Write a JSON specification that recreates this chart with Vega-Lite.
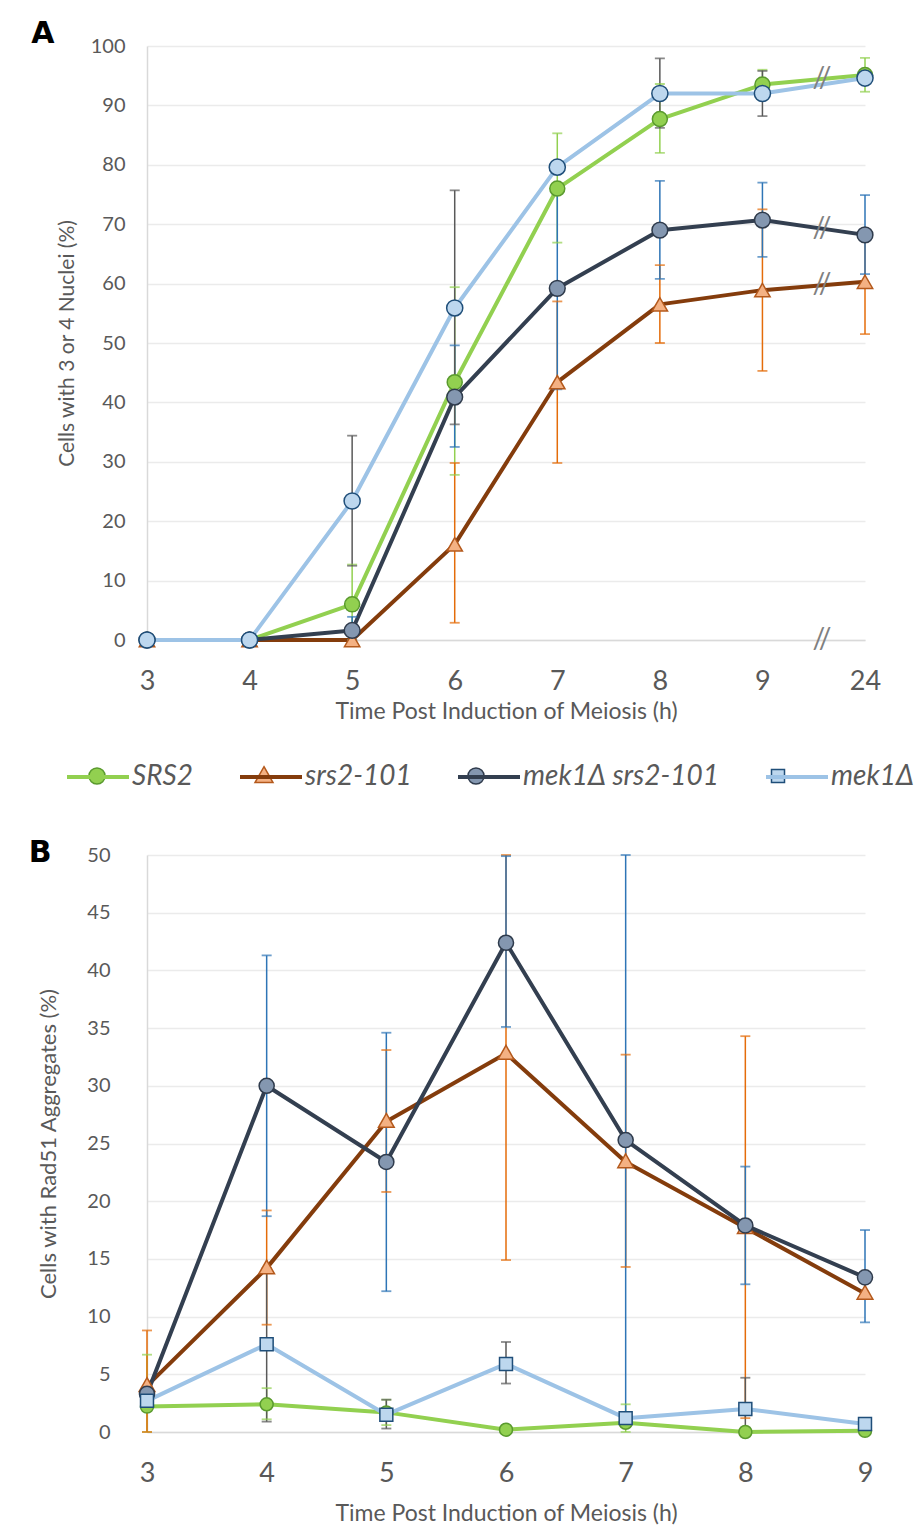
{
  "$schema": "https://vega.github.io/schema/vega-lite/v6.json",
  "background": "white",
  "padding": {"left": 28, "top": 19, "right": 0, "bottom": 0},
  "spacing": 21,
  "resolve": {"scale": {"color": "independent", "fill": "independent", "stroke": "independent", "shape": "independent", "size": "independent"}, "legend": {"color": "independent", "fill": "independent", "stroke": "independent", "shape": "independent", "size": "independent"}},
  "config": {
    "font": "Lato",
    "view": {"stroke": null},
    "axis": {"labelColor": "#595959", "titleColor": "#595959", "labelFont": "Lato", "titleFont": "Lato", "titleFontWeight": "normal", "ticks": false, "gridColor": "#EBEBEB", "gridWidth": 1.5, "domainColor": "#D9D9D9", "domainWidth": 1.5}
  },
  "datasets": {
    "A": [
      {"t": 3, "s": "SRS2", "v": 0}, {"t": 4, "s": "SRS2", "v": 0},
      {"t": 5, "s": "SRS2", "v": 6.0, "lo": 0, "hi": 12.7},
      {"t": 6, "s": "SRS2", "v": 43.4, "lo": 27.8, "hi": 59.4},
      {"t": 7, "s": "SRS2", "v": 76.0, "lo": 66.9, "hi": 85.3},
      {"t": 8, "s": "SRS2", "v": 87.7, "lo": 82.0, "hi": 93.6},
      {"t": 9, "s": "SRS2", "v": 93.5, "lo": 91.0, "hi": 96.0},
      {"t": 24, "s": "SRS2", "v": 95.1, "lo": 92.3, "hi": 98.0},
      {"t": 3, "s": "srs2-101", "v": 0}, {"t": 4, "s": "srs2-101", "v": 0}, {"t": 5, "s": "srs2-101", "v": 0},
      {"t": 6, "s": "srs2-101", "v": 16.1, "lo": 2.9, "hi": 29.8},
      {"t": 7, "s": "srs2-101", "v": 43.4, "lo": 29.8, "hi": 57.0},
      {"t": 8, "s": "srs2-101", "v": 56.5, "lo": 50.0, "hi": 63.1},
      {"t": 9, "s": "srs2-101", "v": 58.9, "lo": 45.3, "hi": 72.5},
      {"t": 24, "s": "srs2-101", "v": 60.3, "lo": 51.5, "hi": 69.1},
      {"t": 3, "s": "mek1Δ srs2-101", "v": 0}, {"t": 4, "s": "mek1Δ srs2-101", "v": 0},
      {"t": 5, "s": "mek1Δ srs2-101", "v": 1.6, "lo": 0, "hi": 3.9},
      {"t": 6, "s": "mek1Δ srs2-101", "v": 40.9, "lo": 32.5, "hi": 49.6},
      {"t": 7, "s": "mek1Δ srs2-101", "v": 59.2, "lo": 42.2, "hi": 76.2},
      {"t": 8, "s": "mek1Δ srs2-101", "v": 69.0, "lo": 60.8, "hi": 77.3},
      {"t": 9, "s": "mek1Δ srs2-101", "v": 70.7, "lo": 64.5, "hi": 77.0},
      {"t": 24, "s": "mek1Δ srs2-101", "v": 68.2, "lo": 61.6, "hi": 74.9},
      {"t": 3, "s": "mek1Δ", "v": 0}, {"t": 4, "s": "mek1Δ", "v": 0},
      {"t": 5, "s": "mek1Δ", "v": 23.4, "lo": 12.5, "hi": 34.4},
      {"t": 6, "s": "mek1Δ", "v": 55.9, "lo": 36.3, "hi": 75.7},
      {"t": 7, "s": "mek1Δ", "v": 79.6},
      {"t": 8, "s": "mek1Δ", "v": 92.0, "lo": 86.2, "hi": 97.9},
      {"t": 9, "s": "mek1Δ", "v": 92.0, "lo": 88.2, "hi": 95.8},
      {"t": 24, "s": "mek1Δ", "v": 94.6}
    ],
    "B": [
      {"t": 3, "s": "SRS2", "v": 2.2, "lo": 0, "hi": 6.7},
      {"t": 4, "s": "SRS2", "v": 2.4, "lo": 1.1, "hi": 3.8},
      {"t": 5, "s": "SRS2", "v": 1.7, "lo": 0.6, "hi": 2.8},
      {"t": 6, "s": "SRS2", "v": 0.2},
      {"t": 7, "s": "SRS2", "v": 0.8, "lo": 0, "hi": 2.4},
      {"t": 8, "s": "SRS2", "v": 0},
      {"t": 9, "s": "SRS2", "v": 0.1},
      {"t": 3, "s": "srs2-101", "v": 4.0, "lo": 0, "hi": 8.8},
      {"t": 4, "s": "srs2-101", "v": 14.2, "lo": 9.3, "hi": 19.2},
      {"t": 5, "s": "srs2-101", "v": 26.9, "lo": 20.8, "hi": 33.1},
      {"t": 6, "s": "srs2-101", "v": 32.8, "lo": 14.9, "hi": 50},
      {"t": 7, "s": "srs2-101", "v": 23.4, "lo": 14.3, "hi": 32.7},
      {"t": 8, "s": "srs2-101", "v": 17.7, "lo": 1.2, "hi": 34.3},
      {"t": 9, "s": "srs2-101", "v": 12.0},
      {"t": 3, "s": "mek1Δ srs2-101", "v": 3.3},
      {"t": 4, "s": "mek1Δ srs2-101", "v": 30.0, "lo": 18.7, "hi": 41.3},
      {"t": 5, "s": "mek1Δ srs2-101", "v": 23.4, "lo": 12.2, "hi": 34.6},
      {"t": 6, "s": "mek1Δ srs2-101", "v": 42.4, "lo": 35.1, "hi": 49.9},
      {"t": 7, "s": "mek1Δ srs2-101", "v": 25.3, "lo": 1.2, "hi": 50},
      {"t": 8, "s": "mek1Δ srs2-101", "v": 17.9, "lo": 12.8, "hi": 23.0},
      {"t": 9, "s": "mek1Δ srs2-101", "v": 13.4, "lo": 9.5, "hi": 17.5},
      {"t": 3, "s": "mek1Δ", "v": 2.7},
      {"t": 4, "s": "mek1Δ", "v": 7.6, "lo": 0.9, "hi": 14.2},
      {"t": 5, "s": "mek1Δ", "v": 1.5, "lo": 0.3, "hi": 2.8},
      {"t": 6, "s": "mek1Δ", "v": 5.9, "lo": 4.2, "hi": 7.8},
      {"t": 7, "s": "mek1Δ", "v": 1.2},
      {"t": 8, "s": "mek1Δ", "v": 2.0, "lo": 0, "hi": 4.7},
      {"t": 9, "s": "mek1Δ", "v": 0.7}
    ],
    "brk": [
      {"t": 24, "v": 94.4}, {"t": 24, "v": 69.2}, {"t": 24, "v": 59.7}, {"t": 24, "v": 0}
    ]
  },
  "vconcat": [
    {
      "width": 718,
      "height": 594,
      "title": {"text": "A", "anchor": "start", "font": "DejaVu Sans", "fontWeight": "bold", "fontSize": 30, "color": "#000000", "dx": -25, "offset": -13},
      "data": {"name": "A"},
      "resolve": {"scale": {"color": "independent"}},
      "layer": [
        {
          "mark": {"type": "line", "strokeWidth": 4, "strokeJoin": "round"},
          "encoding": {
            "x": {"field": "t", "type": "ordinal", "title": "Time Post Induction of Meiosis (h)",
                  "scale": {"type": "point", "padding": 0, "domain": [3, 4, 5, 6, 7, 8, 9, 24]},
                  "axis": {"labelAngle": 0, "labelFontSize": 27, "labelPadding": 28, "titleFontSize": 23, "titlePadding": 6, "grid": false, "domain": true}},
            "y": {"field": "v", "type": "quantitative", "title": "Cells with 3 or 4 Nuclei (%)",
                  "scale": {"domain": [0, 100], "nice": false},
                  "axis": {"values": [0, 10, 20, 30, 40, 50, 60, 70, 80, 90, 100], "labelFontSize": 20, "labelPadding": 22, "titleFontSize": 21, "titlePadding": 13, "grid": true, "domain": true}},
            "color": {"field": "s", "type": "nominal", "legend": null,
                      "scale": {"domain": ["SRS2", "srs2-101", "mek1Δ srs2-101", "mek1Δ"], "range": ["#92D050", "#843C0C", "#333F50", "#9DC3E6"]}}
          }
        },
        {
          "mark": {"type": "rule", "strokeWidth": 1.5},
          "encoding": {
            "x": {"field": "t", "type": "ordinal", "title": "Time Post Induction of Meiosis (h)"},
            "y": {"field": "lo", "type": "quantitative", "title": "Cells with 3 or 4 Nuclei (%)"},
            "y2": {"field": "hi"},
            "color": {"field": "s", "type": "nominal", "legend": null,
                      "scale": {"domain": ["SRS2", "srs2-101", "mek1Δ srs2-101", "mek1Δ"], "range": ["#92D050", "#E46C0A", "#2E75B6", "#595959"]}}
          }
        },
        {
          "mark": {"type": "tick", "orient": "horizontal", "size": 10, "thickness": 1.8},
          "encoding": {
            "x": {"field": "t", "type": "ordinal", "title": "Time Post Induction of Meiosis (h)"},
            "y": {"field": "hi", "type": "quantitative", "title": "Cells with 3 or 4 Nuclei (%)"},
            "color": {"field": "s", "type": "nominal", "legend": null,
                      "scale": {"domain": ["SRS2", "srs2-101", "mek1Δ srs2-101", "mek1Δ"], "range": ["#92D050", "#E46C0A", "#2E75B6", "#595959"]}}
          }
        },
        {
          "mark": {"type": "tick", "orient": "horizontal", "size": 10, "thickness": 1.8},
          "encoding": {
            "x": {"field": "t", "type": "ordinal", "title": "Time Post Induction of Meiosis (h)"},
            "y": {"field": "lo", "type": "quantitative", "title": "Cells with 3 or 4 Nuclei (%)"},
            "color": {"field": "s", "type": "nominal", "legend": null,
                      "scale": {"domain": ["SRS2", "srs2-101", "mek1Δ srs2-101", "mek1Δ"], "range": ["#92D050", "#E46C0A", "#2E75B6", "#595959"]}}
          }
        },
        {
          "mark": {"type": "point", "filled": true, "opacity": 1, "strokeWidth": 1.5},
          "encoding": {
            "x": {"field": "t", "type": "ordinal", "title": "Time Post Induction of Meiosis (h)"},
            "y": {"field": "v", "type": "quantitative", "title": "Cells with 3 or 4 Nuclei (%)"},
            "shape": {"field": "s", "type": "nominal", "legend": null,
                      "scale": {"domain": ["SRS2", "srs2-101", "mek1Δ srs2-101", "mek1Δ"], "range": ["circle", "triangle-up", "circle", "circle"]}},
            "size": {"field": "s", "type": "nominal", "legend": null,
                     "scale": {"domain": ["SRS2", "srs2-101", "mek1Δ srs2-101", "mek1Δ"], "range": [225, 260, 150, 125]}},
            "stroke": {"field": "s", "type": "nominal", "legend": null,
                       "scale": {"domain": ["SRS2", "srs2-101", "mek1Δ srs2-101", "mek1Δ"], "range": ["#5A9A2E", "#B4591C", "#2F3B4C", "#1F4E79"]}},
            "fill": {"field": "s", "type": "nominal", "legend": null,
                     "scale": {"domain": ["SRS2", "srs2-101", "mek1Δ srs2-101", "mek1Δ"], "range": ["#92D050", "#F4B183", "#8497B0", "#BDD7EE"]}}
          }
        },
        {
          "data": {"name": "brk"},
          "mark": {"type": "text", "text": "//", "dx": -43, "fontSize": 28, "font": "Lato", "color": "#808080"},
          "encoding": {
            "x": {"field": "t", "type": "ordinal", "title": "Time Post Induction of Meiosis (h)"},
            "y": {"field": "v", "type": "quantitative", "title": "Cells with 3 or 4 Nuclei (%)"}
          }
        }
      ]
    },
    {
      "width": 718,
      "height": 577,
      "title": {"text": "B", "anchor": "start", "font": "DejaVu Sans", "fontWeight": "bold", "fontSize": 30, "color": "#000000", "dx": -9, "offset": -124},
      "data": {"name": "B"},
      "resolve": {"scale": {"color": "independent"}},
      "layer": [
        {
          "mark": {"type": "line", "strokeWidth": 4, "strokeJoin": "round"},
          "encoding": {
            "x": {"field": "t", "type": "ordinal", "title": "Time Post Induction of Meiosis (h)",
                  "scale": {"type": "point", "padding": 0, "domain": [3, 4, 5, 6, 7, 8, 9]},
                  "axis": {"labelAngle": 0, "labelFontSize": 27, "labelPadding": 28, "titleFontSize": 23, "titlePadding": 16, "grid": false, "domain": true}},
            "y": {"field": "v", "type": "quantitative", "title": "Cells with Rad51 Aggregates (%)",
                  "scale": {"domain": [0, 50], "nice": false},
                  "axis": {"values": [0, 5, 10, 15, 20, 25, 30, 35, 40, 45, 50], "labelFontSize": 20, "labelPadding": 37, "titleFontSize": 22, "titlePadding": 26, "grid": true, "domain": true}},
            "color": {"field": "s", "type": "nominal",
                      "scale": {"domain": ["SRS2", "srs2-101", "mek1Δ srs2-101", "mek1Δ"], "range": ["#92D050", "#843C0C", "#333F50", "#9DC3E6"]},
                      "legend": {"orient": "none", "legendX": -82, "legendY": -111, "direction": "horizontal", "title": null, "padding": 0,
                                 "symbolType": "stroke", "symbolSize": 3844, "symbolStrokeWidth": 4,
                                 "labelFont": "Lato", "labelFontStyle": "italic", "labelFontSize": 28, "labelColor": "#595959", "labelOffset": 1, "labelLimit": 500, "columnPadding": 38}}
          }
        },
        {
          "mark": {"type": "rule", "strokeWidth": 1.5},
          "encoding": {
            "x": {"field": "t", "type": "ordinal", "title": "Time Post Induction of Meiosis (h)"},
            "y": {"field": "lo", "type": "quantitative", "title": "Cells with Rad51 Aggregates (%)"},
            "y2": {"field": "hi"},
            "color": {"field": "s", "type": "nominal", "legend": null,
                      "scale": {"domain": ["SRS2", "srs2-101", "mek1Δ srs2-101", "mek1Δ"], "range": ["#92D050", "#E46C0A", "#2E75B6", "#595959"]}}
          }
        },
        {
          "mark": {"type": "tick", "orient": "horizontal", "size": 10, "thickness": 1.8},
          "encoding": {
            "x": {"field": "t", "type": "ordinal", "title": "Time Post Induction of Meiosis (h)"},
            "y": {"field": "hi", "type": "quantitative", "title": "Cells with Rad51 Aggregates (%)"},
            "color": {"field": "s", "type": "nominal", "legend": null,
                      "scale": {"domain": ["SRS2", "srs2-101", "mek1Δ srs2-101", "mek1Δ"], "range": ["#92D050", "#E46C0A", "#2E75B6", "#595959"]}}
          }
        },
        {
          "mark": {"type": "tick", "orient": "horizontal", "size": 10, "thickness": 1.8},
          "encoding": {
            "x": {"field": "t", "type": "ordinal", "title": "Time Post Induction of Meiosis (h)"},
            "y": {"field": "lo", "type": "quantitative", "title": "Cells with Rad51 Aggregates (%)"},
            "color": {"field": "s", "type": "nominal", "legend": null,
                      "scale": {"domain": ["SRS2", "srs2-101", "mek1Δ srs2-101", "mek1Δ"], "range": ["#92D050", "#E46C0A", "#2E75B6", "#595959"]}}
          }
        },
        {
          "mark": {"type": "point", "filled": true, "opacity": 1, "strokeWidth": 1.5},
          "encoding": {
            "x": {"field": "t", "type": "ordinal", "title": "Time Post Induction of Meiosis (h)"},
            "y": {"field": "v", "type": "quantitative", "title": "Cells with Rad51 Aggregates (%)"},
            "shape": {"field": "s", "type": "nominal",
                      "scale": {"domain": ["SRS2", "srs2-101", "mek1Δ srs2-101", "mek1Δ"],
                                "range": ["M-0.26,0A0.26,0.26 0 1,0 0.26,0A0.26,0.26 0 1,0 -0.26,0Z", "M0,-0.3L0.29,0.21L-0.29,0.21Z", "M-0.26,0A0.26,0.26 0 1,0 0.26,0A0.26,0.26 0 1,0 -0.26,0Z", "M-0.21,-0.21H0.21V0.21H-0.21Z"]},
                      "legend": {"orient": "none", "legendX": -82, "legendY": -111, "direction": "horizontal", "title": null, "padding": 0,
                                 "symbolSize": 3844, "symbolStrokeWidth": 1.5,
                                 "labelFont": "Lato", "labelFontStyle": "italic", "labelFontSize": 28, "labelOpacity": 0, "labelOffset": 3, "labelLimit": 500, "columnPadding": 38}},
            "size": {"field": "s", "type": "nominal", "legend": null,
                     "scale": {"domain": ["mek1Δ", "mek1Δ srs2-101", "srs2-101", "SRS2"], "range": [3800, 2500, 3850, 3330]}},
            "stroke": {"field": "s", "type": "nominal",
                       "scale": {"domain": ["SRS2", "srs2-101", "mek1Δ srs2-101", "mek1Δ"], "range": ["#5A9A2E", "#B4591C", "#2F3B4C", "#1F4E79"]},
                       "legend": {"orient": "none", "legendX": -82, "legendY": -111, "direction": "horizontal", "title": null, "padding": 0,
                                  "symbolSize": 3844, "symbolStrokeWidth": 1.5,
                                  "labelFont": "Lato", "labelFontStyle": "italic", "labelFontSize": 28, "labelOpacity": 0, "labelOffset": 3, "labelLimit": 500, "columnPadding": 38}},
            "fill": {"field": "s", "type": "nominal",
                     "scale": {"domain": ["SRS2", "srs2-101", "mek1Δ srs2-101", "mek1Δ"], "range": ["#92D050", "#F4B183", "#8497B0", "#BDD7EE"]},
                     "legend": {"orient": "none", "legendX": -82, "legendY": -111, "direction": "horizontal", "title": null, "padding": 0,
                                "symbolSize": 3844, "symbolStrokeWidth": 1.5,
                                "labelFont": "Lato", "labelFontStyle": "italic", "labelFontSize": 28, "labelOpacity": 0, "labelOffset": 3, "labelLimit": 500, "columnPadding": 38}}
          }
        }
      ]
    }
  ]
}
